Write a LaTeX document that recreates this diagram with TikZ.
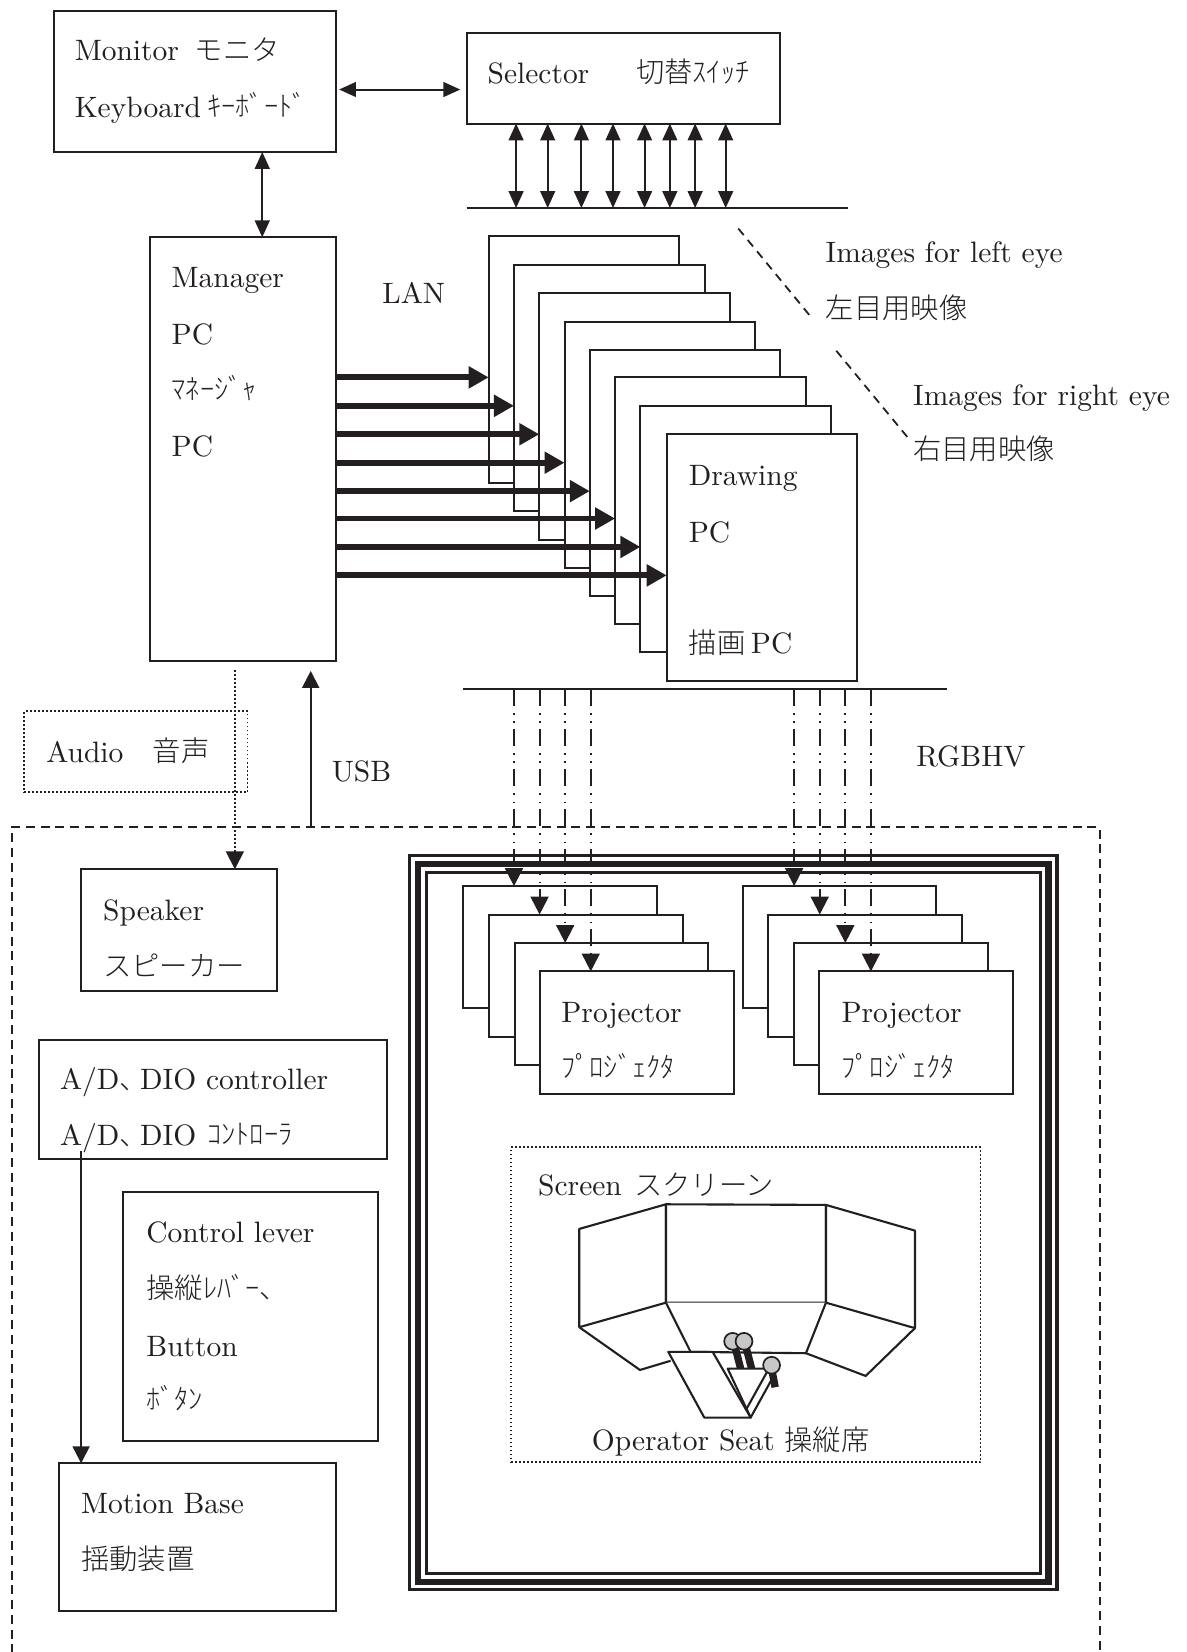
\documentclass[tikz,border=0pt]{standalone}
\usepackage{fontspec}
\usetikzlibrary{arrows.meta,calc}
\newfontfamily\cjk{Noto Sans CJK JP Light}
\font\lmten="[lmroman10-regular.otf]" at 28pt
\newcommand{\jp}[1]{{\cjk\fontsize{26.9}{30}\selectfont #1}}
\definecolor{ink}{HTML}{231F20}
\tikzset{
  box/.style={draw=ink,line width=1.9pt,fill=white,anchor=north west,inner sep=0pt,outer sep=0pt},
  lab/.style={anchor=base west,inner sep=0pt,outer sep=0pt,text=ink,font=\lmten},
  line/.style={draw=ink,line width=1.9pt},
  dbl/.style={line,{Triangle[length=16pt,width=14pt]}-{Triangle[length=16pt,width=14pt]}},
  lanarrow/.style={draw=ink,line width=5.5pt,-{Triangle[length=19pt,width=20pt]}},
  rgb/.style={draw=ink,line width=1.9pt,dash pattern=on 16pt off 7pt on 1.6pt off 6.4pt on 1.6pt off 5.4pt,-{Triangle[length=17pt,width=17pt]}},
  dotbox/.style={box,fill=none,dash pattern=on 1.6pt off 2.2pt,line width=1.7pt},
  bigdash/.style={box,fill=none,dash pattern=on 8.5pt off 5.5pt},
  diag/.style={draw=ink,line width=1.7pt,dash pattern=on 8pt off 6pt},
  scr/.style={draw=ink,line width=2pt,line join=round,fill=white},
  stick/.style={draw=ink,line width=7pt},
  ball/.style={draw=ink,line width=1.6pt,fill=black!22},
}
\newcommand{\bx}[6][box]{\node[#1,minimum width={(#5-#3)*1pt},minimum height={(#6-#4)*1pt}] (#2) at (#3,{#4+0.3}) {};}
\newcommand{\lab}[4]{\node[lab] (#1) at (#2,{#3+0.7}) {#4};}
\begin{document}
\begin{tikzpicture}[x=1pt,y=-1pt]
\useasboundingbox (0,0) rectangle (1127,1568.5);
\fill[white] (0,0) rectangle (1127,1568.5);
% top
\bx{mon}{51}{10}{319}{144}
\lab{t1}{71}{57}{Monitor}
\lab{t1b}{185}{57}{\jp{モニタ}}
\lab{t2}{71}{111}{Keyboard}
\lab{t2b}{197}{110}{\jp{ｷｰﾎﾞｰﾄﾞ}}
\bx{sel}{443}{31}{741}{117}
\lab{t3}{463}{79}{Selector}
\lab{t4}{604}{78}{\jp{切替ｽｲｯﾁ}}
\coordinate (busAl) at (443,197.5);
\coordinate (busAr) at (805,197.5);
\draw[line] (busAl) -- (busAr);
\draw[dbl,shorten <=3pt,shorten >=6pt] (mon.east |- 0,85) -- (sel.west |- 0,85);
\bx{mgr}{142}{225}{319}{627}
\draw[dbl] (249,0 |- mon.south) -- (249,0 |- mgr.north);
\foreach \x in {490,520,552,582,612,636,660,689}
  \draw[dbl] (\x,0 |- sel.south) -- (\x,0 |- busAl);
\lab{t5}{163}{272}{Manager}
\lab{t6}{163}{326}{PC}
\lab{t7}{163}{379}{\jp{ﾏﾈｰｼﾞｬ}}
\lab{t8}{163}{433}{PC}
\lab{t9}{363}{287}{LAN}
% drawing PC stack
\foreach \i/\l/\t in {0/464/224,1/488/251,2/512/278,3/536/305,4/560/332,5/584/358,6/608/385,7/633/412}{
  \pgfmathsetmacro{\r}{\l+181}
  \pgfmathsetmacro{\b}{\t+234}
  \bx{dp\i}{\l}{\t}{\r}{\b}
  \coordinate (a\i) at ($(dp\i.north west)+(0,134)$);
}
\foreach \i in {0,...,7}
  \draw[lanarrow] (a\i -| mgr.east) -- (a\i);
\lab{t10}{654}{460}{Drawing}
\lab{t11}{654}{514}{PC}
\lab{t12}{654}{620}{\jp{描画}}
\lab{t12b}{713}{620}{PC}
\coordinate (d1a) at (701,217);
\coordinate (d1b) at (770,301);
\coordinate (d2a) at (794,333);
\coordinate (d2b) at (864,418);
\draw[diag] (d1a) -- (d1b);
\draw[diag] (d2a) -- (d2b);
\lab{t13}{784}{249}{Images for left eye}
\lab{t14}{784}{302}{\jp{左目用映像}}
\lab{t15}{867}{384}{Images for right eye}
\lab{t16}{867}{436}{\jp{右目用映像}}
\coordinate (busBl) at (440,654);
\coordinate (busBr) at (899,654);
\draw[line] (busBl) -- (busBr);
\lab{t17}{870}{727}{RGBHV}
% audio
\bx[dotbox]{aud}{23}{675}{235}{752}
\lab{t18}{44}{723}{Audio}
\lab{t19}{145}{722}{\jp{音声}}
\lab{t20}{315}{741}{USB}
% big dashed
\bx[bigdash]{base}{11}{785}{1044}{1569}
\coordinate (usbtop) at (295,637);
\draw[line,-{Triangle[length=16pt,width=16pt]}] (usbtop |- base.north) -- (usbtop);
\bx{spk}{77}{825}{263}{941}
\coordinate (audtop) at (223,636);
\draw[draw=ink,line width=1.9pt,dash pattern=on 1.7pt off 2.1pt,-{Triangle[length=17pt,width=17pt]}] (audtop) -- (audtop |- spk.north);
\lab{t21}{98}{873}{Speaker}
\lab{t22}{98}{926}{\jp{スピーカー}}
\bx{adc}{37}{987}{367}{1100}
\lab{t23}{57}{1034}{A/D\jp{、}}
\lab{t23b}{133}{1034}{DIO controller}
\lab{t24}{57}{1087}{A/D\jp{、}}
\lab{t24b}{133}{1087}{DIO}
\lab{t25}{197}{1086}{\jp{ｺﾝﾄﾛｰﾗ}}
\bx{lev}{117}{1131}{359}{1368}
\lab{t26}{139}{1179}{Control lever}
\lab{t27}{139}{1232}{\jp{操縦ﾚﾊﾞｰ、}}
\lab{t28}{139}{1287}{Button}
\lab{t29}{139}{1338}{\jp{ﾎﾞﾀﾝ}}
\bx{mot}{56}{1389}{319}{1529}
\lab{t30}{77}{1436}{Motion Base}
\lab{t31}{77}{1489}{\jp{揺動装置}}
\coordinate (adstart) at (77,1093);
\draw[line,-{Triangle[length=16pt,width=16pt]}] (adstart) -- (adstart |- mot.north);
% triple frame
\node[box,fill=none,line width=3pt,minimum width=614.5pt,minimum height=696.5pt] (fr1) at (389,812.5) {};
\node[box,fill=none,line width=6pt,minimum width=598.5pt,minimum height=681.5pt] (fr2) at (397,820.5) {};
\node[box,fill=none,line width=3pt,minimum width=583pt,minimum height=666pt] (fr3) at (405,828) {};
% projectors
\foreach \g/\L/\o in {A/440/48,B/705/49}{
  \foreach \i in {0,1,2,3}{
    \pgfmathsetmacro{\l}{\L+24.3*\i}
    \pgfmathsetmacro{\t}{841+27*\i}
    \pgfmathsetmacro{\r}{\l+184}
    \pgfmathsetmacro{\b}{\t+116}
    \bx{pj\g\i}{\l}{\t}{\r}{\b}
    \coordinate (tip\g\i) at ($(pj\g\i.north west)+(\o,0)$);
  }
}
\foreach \g in {A,B}\foreach \i in {0,1,2,3}
  \draw[rgb] (tip\g\i |- busBl) -- (tip\g\i);
\lab{t32}{533}{970}{Projector}
\lab{t33}{533}{1022}{\jp{ﾌﾟﾛｼﾞｪｸﾀ}}
\lab{t34}{799}{970}{Projector}
\lab{t35}{799}{1022}{\jp{ﾌﾟﾛｼﾞｪｸﾀ}}
% screen
\bx[dotbox]{scrbox}{485}{1089}{931}{1388}
\lab{t36}{511}{1134}{Screen}
\lab{t36b}{602}{1134}{\jp{スクリーン}}
\lab{t37}{562}{1376}{Operator Seat \jp{操縦席}}
\draw[scr] (550,1166.8) -- (632.3,1143.4) -- (632.3,1236.8) -- (550,1260.1) -- cycle;
\draw[scr] (632.3,1143.4) -- (784.2,1144) -- (784.2,1236.8) -- (632.3,1236.8) -- cycle;
\draw[scr] (784.2,1144) -- (868.7,1168.4) -- (868.7,1261) -- (784.2,1236.8) -- cycle;
\draw[scr] (550,1260.1) -- (607.6,1300.7) -- (636.7,1292);
\draw[scr] (632.3,1236.8) -- (655.7,1283.5) -- (765.2,1284.8) -- (784.2,1236.8);
\draw[scr] (765.2,1284.8) -- (821.9,1306.4) -- (868.7,1261);
% levers
\draw[stick] (697.8,1278.5) -- (703.2,1299.4);
\draw[stick] (708.2,1278.5) -- (713.6,1299.4);
\filldraw[ball] (695.6,1273.5) circle (8);
\filldraw[ball] (706.4,1273.5) circle (8);
% seat
\draw[scr] (690.9,1299.4) -- (727.9,1299.4) -- (734.2,1307) -- (712.7,1345.9) -- cycle;
\draw[scr] (708.2,1338.7) -- (727.9,1303.2);
\draw[scr] (634.5,1283.5) -- (676.6,1283.5) -- (712.7,1345.9) -- (668.7,1345.9) -- cycle;
\draw[stick] (732.6,1299.4) -- (736,1317.1);
\filldraw[ball] (732.6,1296.2) circle (8);
\end{tikzpicture}
\end{document}
